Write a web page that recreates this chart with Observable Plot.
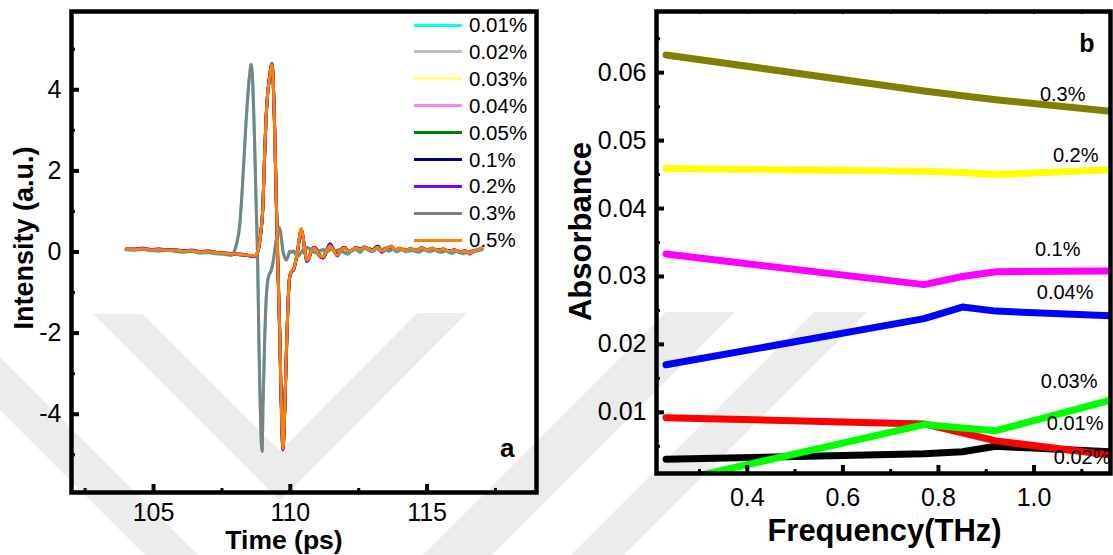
<!DOCTYPE html>
<html>
<head>
<meta charset="utf-8">
<script src="https://cdn.jsdelivr.net/npm/d3@7"></script>
<script src="https://cdn.jsdelivr.net/npm/@observablehq/plot@0.6"></script>
<style>
  html, body { margin: 0; padding: 0; background: #fff; }
  #chart { position: relative; width: 1113px; height: 555px; overflow: hidden;
           font-family: "Liberation Sans", Arial, sans-serif; color: #000; }
  #chart > svg { position: absolute; top: 0; }
  .legend { position: absolute; left: 0; top: 0; }
  .legend .row { position: absolute; height: 26px; }
  .legend .swatch { position: absolute; left: 414px; width: 48px; height: 3px; }
  .legend .label { position: absolute; left: 469px; font-size: 20.5px; line-height: 1; white-space: nowrap; }
</style>
</head>
<body>
<div id="chart"></div>
<script>
// ---------- Panel a: THz time-domain signals ----------
const concentrations = ["0.01%", "0.02%", "0.03%", "0.04%", "0.05%", "0.1%", "0.2%", "0.3%", "0.5%"];
const pulseColors = ["#00ffff", "#c0c0c0", "#ffff80", "#ff80ff", "#008000", "#000080", "#8000ff", "#808080", "#ff8000"];

// Earlier-arriving pulse (ps)
const timeEarly = [
  104.0, 104.3, 104.6, 104.9, 105.2, 105.5, 105.8, 106.1, 106.4, 106.7, 107.0, 107.3, 107.6, 107.85,
  107.95, 108.05, 108.14, 108.26, 108.38, 108.5, 108.57, 108.63,
  108.69, 108.75, 108.81, 108.85, 108.9, 108.94, 108.97, 109.0,
  109.06, 109.12, 109.2, 109.3, 109.38, 109.46, 109.55, 109.61,
  109.67, 109.73, 109.8, 109.85, 109.92, 109.97, 110.05, 110.12,
  110.2, 110.28, 110.38, 110.5, 110.6, 110.75, 110.9, 111.05,
  111.2, 111.35, 111.5, 111.65, 111.8, 111.95, 112.1, 112.25,
  112.4, 112.55, 112.7, 112.85, 113.0, 113.15, 113.3, 113.45,
  113.6, 113.75, 113.9, 114.1, 114.3, 114.5, 114.7, 114.9,
  115.1, 115.3, 115.5, 115.7, 115.9, 116.1, 116.3, 116.5,
  116.7, 117.0
];
const intensity03 = [
  0.06, 0.05, 0.07, 0.04, 0.03, 0.05, 0.02, 0.0, 0.02, -0.02, -0.01, -0.04, -0.05, -0.08,
  0.02, 0.25, 0.6, 1.75, 3.2, 4.3, 4.63, 4.1,
  2.8, 1.18, -0.4, -2.2, -3.8, -4.73, -4.92, -3.8,
  -2.2, -1.12, -0.6, -0.45, -0.2, 0.2, 0.55, 0.6,
  0.35, 0.02, -0.15, -0.2, -0.1, 0.02, 0.0, 0.03,
  -0.05, -0.1, -0.02, 0.08, 0.12, 0.05, 0.0, 0.02,
  0.06, 0.02, 0.08, 0.03, 0.06, 0.0, -0.04, 0.05,
  0.08, 0.0, 0.1, 0.06, 0.02, 0.1, 0.04, 0.1,
  0.03, 0.08, 0.02, 0.08, 0.03, 0.06, 0.01, 0.07,
  0.02, 0.06, 0.0, 0.04, -0.02, 0.03, -0.03, 0.01,
  0.03, 0.07
];
const intensity001 = [
  0.05, 0.04, 0.06, 0.03, 0.02, 0.04, 0.01, -0.01, 0.01, -0.03, -0.02, -0.05, -0.06, -0.09,
  0.0, 0.22, 0.58, 1.72, 3.18, 4.28, 4.61, 4.12,
  2.85, 1.22, -0.36, -2.18, -3.78, -4.72, -4.9, -3.84,
  -2.24, -1.15, -0.62, -0.47, -0.22, 0.18, 0.53, 0.59,
  0.36, 0.04, -0.13, -0.19, -0.11, 0.0, -0.02, 0.02,
  -0.06, -0.11, -0.04, 0.06, 0.1, 0.04, -0.02, 0.0,
  0.04, 0.0, 0.06, 0.01, 0.04, -0.02, -0.06, 0.03,
  0.06, -0.02, 0.08, 0.04, 0.0, 0.08, 0.02, 0.08,
  0.01, 0.06, 0.0, 0.06, 0.01, 0.04, -0.01, 0.05,
  0.0, 0.04, -0.02, 0.02, -0.04, 0.01, -0.05, -0.01,
  0.01, 0.05
];

// Later-arriving pulse (ps)
const timeLate = [
  104.0, 104.3, 104.6, 104.9, 105.2, 105.5, 105.8, 106.1, 106.4, 106.7, 107.0, 107.3, 107.6, 107.9, 108.2, 108.5,
  108.69, 108.81, 108.91, 109.0, 109.06, 109.14, 109.24, 109.33,
  109.42, 109.49, 109.55, 109.58, 109.62, 109.65, 109.69, 109.73,
  109.78, 109.85, 109.91, 109.97, 110.04, 110.12, 110.2, 110.27,
  110.34, 110.4, 110.46, 110.53, 110.6, 110.66, 110.75, 110.85,
  110.95, 111.05, 111.2, 111.3, 111.45, 111.6, 111.72, 111.85,
  111.98, 112.1, 112.24, 112.4, 112.55, 112.7, 112.85, 113.0,
  113.2, 113.35, 113.5, 113.7, 113.85, 114.0, 114.2, 114.4,
  114.6, 114.8, 115.0, 115.2, 115.4, 115.6, 115.8, 116.0,
  116.2, 116.4, 116.55, 116.7, 116.85, 117.0
];
const intensity05 = [
  0.07, 0.06, 0.08, 0.05, 0.06, 0.04, 0.05, 0.02, 0.03, 0.0, 0.01, -0.02, -0.03, -0.05, -0.06, -0.08,
  -0.1, 0.02, 0.43, 1.18, 2.4, 3.64, 4.3, 4.63,
  3.2, 1.17, -0.47, -1.2, -2.2, -3.2, -4.24, -4.85,
  -4.2, -2.6, -1.37, -0.63, -0.47, -0.42, -0.2, 0.05,
  0.4, 0.58, 0.4, 0.05, -0.2, -0.18, 0.0, 0.1,
  0.05, -0.08, -0.12, 0.0, 0.15, 0.0, -0.08, 0.05,
  0.1, 0.03, 0.05, 0.1, 0.06, 0.12, 0.08, 0.04,
  0.12, 0.02, 0.08, 0.14, 0.05, 0.09, 0.04, 0.08,
  0.03, 0.1, 0.05, 0.09, 0.04, 0.07, 0.02, 0.05,
  0.0, 0.03, -0.03, 0.02, 0.06, 0.1
];
const intensity02 = [
  0.08, 0.07, 0.1, 0.06, 0.08, 0.05, 0.06, 0.03, 0.05, 0.01, 0.03, -0.01, -0.02, -0.04, -0.05, -0.09,
  -0.12, 0.0, 0.4, 1.15, 2.38, 3.62, 4.32, 4.65,
  3.25, 1.2, -0.45, -1.18, -2.2, -3.22, -4.28, -4.88,
  -4.25, -2.65, -1.4, -0.66, -0.5, -0.44, -0.22, 0.02,
  0.36, 0.55, 0.38, 0.03, -0.24, -0.2, -0.02, 0.12,
  0.07, -0.1, -0.15, 0.02, 0.18, 0.02, -0.1, 0.04,
  0.12, 0.02, 0.03, 0.12, 0.04, 0.13, 0.06, 0.02,
  0.13, -0.01, 0.07, 0.15, 0.03, 0.1, 0.02, 0.09,
  0.01, 0.11, 0.03, 0.1, 0.02, 0.08, 0.0, 0.06,
  -0.02, 0.04, -0.05, 0.01, 0.05, 0.09
];
const intensityLow = [
  0.06, 0.07, 0.07, 0.06, 0.05, 0.05, 0.04, 0.03, 0.02, 0.01, 0.0, -0.01, -0.04, -0.05, -0.07, -0.09,
  -0.11, 0.01, 0.42, 1.17, 2.39, 3.63, 4.31, 4.64,
  3.22, 1.18, -0.46, -1.19, -2.2, -3.21, -4.26, -4.87,
  -4.22, -2.62, -1.38, -0.64, -0.48, -0.43, -0.21, 0.04,
  0.38, 0.57, 0.39, 0.04, -0.22, -0.19, -0.01, 0.11,
  0.08, -0.06, -0.14, -0.02, 0.2, 0.03, -0.06, 0.06,
  0.11, 0.04, 0.04, 0.11, 0.07, 0.11, 0.09, 0.05,
  0.14, 0.03, 0.09, 0.12, 0.06, 0.08, 0.05, 0.07,
  0.04, 0.09, 0.06, 0.08, 0.05, 0.06, 0.03, 0.04,
  0.01, 0.02, -0.02, 0.03, 0.05, 0.08
];

// which recorded trace belongs to each concentration
const traceOf = {
  "0.01%": [timeEarly, intensity001],
  "0.02%": [timeLate, intensityLow],
  "0.03%": [timeLate, intensityLow],
  "0.04%": [timeLate, intensityLow],
  "0.05%": [timeLate, intensityLow],
  "0.1%":  [timeLate, intensityLow],
  "0.2%":  [timeLate, intensity02],
  "0.3%":  [timeEarly, intensity03],
  "0.5%":  [timeLate, intensity05]
};

const timeTicks = [105, 110, 115];
const timeMinorTicks = [102.5, 107.5, 112.5, 117.5];
const intensityTicks = [-4, -2, 0, 2, 4];
const intensityMinorTicks = [-5, -3, -1, 1, 3, 5];

// ---------- Panel b: absorbance spectra ----------
const frequency = [0.23, 0.77, 0.85, 0.92, 1.16];
const absorbanceSeries = ["0.02%", "0.01%", "0.03%", "0.04%", "0.1%", "0.2%", "0.3%"];
const absorbanceColors = ["#000000", "#ff0000", "#00ff00", "#0000ff", "#ff00ff", "#ffff00", "#808000"];
const abs002 = [0.0031, 0.0039, 0.0042, 0.0050, 0.0042];
const abs001 = [0.0092, 0.0083, 0.0070, 0.0058, 0.0037];
const abs003 = [-0.0004, 0.0082, 0.0077, 0.0073, 0.0118];
const abs004 = [0.0170, 0.0238, 0.0255, 0.0249, 0.0242];
const abs01 = [0.0333, 0.0288, 0.0300, 0.0307, 0.0308];
const abs02 = [0.0459, 0.0455, 0.0453, 0.0450, 0.0457];
const abs03 = [0.0626, 0.0573, 0.0566, 0.0560, 0.0543];
const absorbanceValues = [abs002, abs001, abs003, abs004, abs01, abs02, abs03];

const freqTicks = [0.4, 0.6, 0.8, 1.0];
const freqMinorTicks = [0.3, 0.5, 0.7, 0.9, 1.1];
const absTicks = [0.01, 0.02, 0.03, 0.04, 0.05, 0.06];
const absMinorTicks = [0.005, 0.015, 0.025, 0.035, 0.045, 0.055, 0.065];

// ---------- build tables ----------
const pulseRows = concentrations.flatMap(c => {
  const [t, v] = traceOf[c];
  return t.map((ti, i) => ({series: c, t: ti, v: v[i]}));
});
const absorbanceRows = absorbanceSeries.flatMap((s, k) =>
  frequency.map((f, i) => ({series: s, f, a: absorbanceValues[k][i]})));
const lineEnds = absorbanceSeries.map((s, k) => ({series: s, f: frequency[frequency.length - 1], a: absorbanceValues[k][frequency.length - 1]}));

const FONT = '"Liberation Sans", Arial, Helvetica, sans-serif';
const chart = document.getElementById("chart");

// faint chevron watermark behind both panels
const wm = d3.select(chart).append("svg")
  .attr("width", 1113).attr("height", 555)
  .style("left", "0px");
[
  "M93,314 L143,314 L280,451 L417,313 L467,313 L280,501 Z",
  "M0,357 L0,410 L145,555 L198,555 Z",
  "M666,312 L735,312 L492,555 L423,555 Z",
  "M814,312 L867,312 L624,555 L571,555 Z"
].forEach(d => wm.append("path").attr("d", d).attr("fill", "#ececec"));

// ---------- draw panel a ----------
const A = {w: 560, h: 555, ml: 71, mr: 24, mt: 11, mb: 63};
const aPlotW = A.w - A.ml - A.mr, aPlotH = A.h - A.mt - A.mb;

const plotA = Plot.plot({
  width: A.w, height: A.h,
  marginLeft: A.ml, marginRight: A.mr, marginTop: A.mt, marginBottom: A.mb,
  x: {domain: [102, 119]},
  y: {domain: [-5.93, 5.93]},
  color: {domain: concentrations, range: pulseColors},
  style: {fontFamily: FONT, background: "transparent", color: "#000"},
  marks: [
    Plot.line(pulseRows, {x: "t", y: "v", z: "series", stroke: "series", strokeWidth: 3, curve: "monotone-x"}),
    Plot.tickX(timeTicks, {x: d => d, insetTop: aPlotH - 8, strokeWidth: 4}),
    Plot.tickX(timeMinorTicks, {x: d => d, insetTop: aPlotH - 4, strokeWidth: 3}),
    Plot.tickY(intensityTicks, {y: d => d, insetRight: aPlotW - 8, strokeWidth: 4}),
    Plot.tickY(intensityMinorTicks, {y: d => d, insetRight: aPlotW - 4, strokeWidth: 3}),
    Plot.axisX(timeTicks, {tickSize: 0, tickPadding: 11, fontSize: 25, label: null, tickFormat: d => String(d)}),
    Plot.axisY(intensityTicks, {tickSize: 0, tickPadding: 10, fontSize: 25, label: null, tickFormat: d => String(d)}),
    Plot.frame({strokeWidth: 4.5}),
    Plot.text(["a"], {text: d => d, frameAnchor: "bottom-right", textAnchor: "end", lineAnchor: "bottom",
      dx: -22, dy: -36, fontSize: 26, fontWeight: "bold"}),
    Plot.text(["Time (ps)"], {text: d => d, frameAnchor: "bottom", textAnchor: "middle", lineAnchor: "bottom",
      dx: -20, dy: 56, fontSize: 26.5, fontWeight: "bold"}),
    Plot.text(["Intensity (a.u.)"], {text: d => d, frameAnchor: "left", textAnchor: "middle", lineAnchor: "middle",
      rotate: -90, dx: -47, dy: -14, fontSize: 27, fontWeight: "bold"})
  ]
});
plotA.style.left = "0px";
chart.appendChild(plotA);

// legend for panel a
const legend = d3.select(chart).append("div").attr("class", "legend");
const rows = legend.selectAll("div.row").data(concentrations).join("div")
  .attr("class", "row")
  .style("top", (d, i) => `${25 + i * 26.9 - 13}px`);
rows.append("div").attr("class", "swatch")
  .style("top", "11.5px")
  .style("background", (d, i) => pulseColors[i]);
rows.append("div").attr("class", "label")
  .style("top", "3px")
  .text(d => d);

// ---------- draw panel b ----------
const B = {w: 557, h: 555, ml: 100, mr: 3, mt: 11, mb: 82};
const bPlotW = B.w - B.ml - B.mr, bPlotH = B.h - B.mt - B.mb;
const labelOffset = {
  "0.3%": [-25, -17], "0.2%": [-12, -14.5], "0.1%": [-30, -21], "0.04%": [-17, -23],
  "0.03%": [-13, -19], "0.01%": [-7, -32], "0.02%": [0, 6]
};

const plotB = Plot.plot({
  width: B.w, height: B.h,
  marginLeft: B.ml, marginRight: B.mr, marginTop: B.mt, marginBottom: B.mb,
  x: {domain: [0.21, 1.16]},
  y: {domain: [0.001, 0.069]},
  color: {domain: absorbanceSeries, range: absorbanceColors},
  style: {fontFamily: FONT, background: "transparent", color: "#000"},
  marks: [
    Plot.line(absorbanceRows, {x: "f", y: "a", z: "series", stroke: "series", strokeWidth: 7, clip: true}),
    Plot.tickX(freqTicks, {x: d => d, insetTop: bPlotH - 8, strokeWidth: 4}),
    Plot.tickX(freqMinorTicks, {x: d => d, insetTop: bPlotH - 4, strokeWidth: 3}),
    Plot.tickX([...freqMinorTicks, ...freqTicks], {x: d => d, insetBottom: bPlotH - 3, strokeWidth: 2}),
    Plot.tickY(absTicks, {y: d => d, insetRight: bPlotW - 8, strokeWidth: 4}),
    Plot.tickY(absMinorTicks, {y: d => d, insetRight: bPlotW - 4, strokeWidth: 3}),
    Plot.axisX(freqTicks, {tickSize: 0, tickPadding: 15, fontSize: 25, label: null, tickFormat: d3.format(".1f")}),
    Plot.axisY(absTicks, {tickSize: 0, tickPadding: 10, fontSize: 25, label: null, tickFormat: d3.format(".2f")}),
    ...lineEnds.map(d => Plot.text([d], {x: "f", y: "a", text: "series", textAnchor: "end", lineAnchor: "middle",
      dx: labelOffset[d.series][0], dy: labelOffset[d.series][1], fontSize: 20})),
    Plot.frame({strokeWidth: 4.5}),
    Plot.text(["b"], {text: d => d, frameAnchor: "top-right", textAnchor: "end", lineAnchor: "bottom",
      dx: -16, dy: 40, fontSize: 25, fontWeight: "bold"}),
    Plot.text(["Frequency(THz)"], {text: d => d, frameAnchor: "bottom", textAnchor: "middle", lineAnchor: "bottom",
      dx: 1, dy: 67, fontSize: 31, fontWeight: "bold"}),
    Plot.text(["Absorbance"], {text: d => d, frameAnchor: "left", textAnchor: "middle", lineAnchor: "middle",
      rotate: -90, dx: -75, dy: -11, fontSize: 31, fontWeight: "bold"})
  ]
});
plotB.style.left = "556px";
chart.appendChild(plotB);
</script>
</body>
</html>
